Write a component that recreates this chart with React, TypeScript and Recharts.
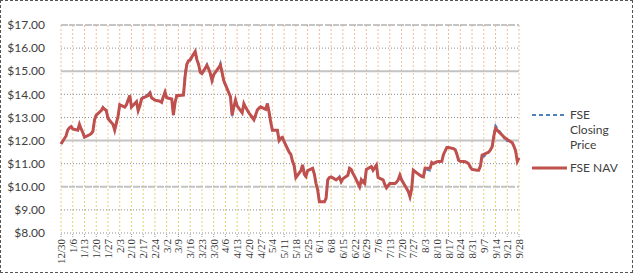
import React from 'react';
import {
  LineChart, Line, XAxis, YAxis, CartesianGrid, ReferenceLine, Legend,
} from 'recharts';

// trading days, counted in calendar days from 12/30
const days = [
  0, 3, 4, 5, 6, 7, 10, 11, 12, 13, 14, 17, 18, 19, 20, 21, 24, 25, 26, 27, 28,
  31, 32, 33, 34, 35, 38, 39, 40, 41, 42, 45, 46, 47, 48, 49, 52, 53, 54, 55, 56,
  59, 60, 61, 62, 63, 66, 67, 68, 69, 70, 73, 74, 75, 76, 77, 80, 81, 82, 83, 84,
  87, 88, 89, 90, 91, 94, 95, 96, 97, 101, 102, 103, 104, 105, 108, 109, 110, 111, 112,
  115, 116, 117, 118, 119, 122, 123, 124, 125, 126, 129, 130, 131, 132, 133,
  136, 137, 138, 139, 140, 143, 144, 145, 146, 147, 150, 151, 152, 153, 154,
  157, 158, 159, 160, 161, 164, 165, 166, 167, 168, 171, 172, 173, 174, 175,
  178, 179, 180, 181, 182, 185, 186, 188, 189, 192, 193, 194, 195, 196,
  199, 200, 201, 202, 203, 206, 207, 208, 209, 210, 213, 214, 215, 216, 217,
  220, 221, 222, 223, 224, 227, 228, 229, 230, 231, 234, 235, 236, 237, 238,
  241, 242, 243, 244, 245, 248, 249, 250, 251, 252, 255, 256, 257, 258, 259,
  262, 263, 264, 265, 266, 269, 270, 271, 272, 273,
];

const nav = [
  11.85, 12.2, 12.45, 12.55, 12.6, 12.5, 12.45, 12.7, 12.5, 12.35, 12.15, 12.25, 12.3, 12.4, 12.9, 13.1, 13.3, 13.42, 13.35, 13.3, 12.95,
  12.7, 12.45, 12.75, 13.05, 13.55, 13.45, 13.55, 13.75, 13.95, 13.45, 13.68, 13.3, 13.5, 13.8, 13.85, 13.95, 14.05, 13.85, 13.8, 13.75,
  13.7, 13.65, 13.9, 14.1, 13.85, 13.8, 13.1, 13.65, 13.95, 13.95, 13.97, 14.8, 15.3, 15.45, 15.5, 15.85, 15.5, 15.3, 14.95, 14.9,
  15.25, 15.1, 14.9, 14.6, 14.85, 15.15, 15.27, 14.95, 14.6, 13.9, 13.1, 13.45, 13.75, 13.5, 13.2, 13.6, 13.45, 13.32, 13.2,
  12.9, 13.1, 13.32, 13.4, 13.46, 13.35, 13.6, 13.25, 12.8, 12.45, 12.45, 12.0, 12.1, 12.14, 11.95,
  11.5, 11.4, 11.1, 10.9, 10.4, 10.7, 10.95, 10.55, 10.45, 10.7, 10.8, 10.55, 10.15, 9.86, 9.35,
  9.35, 9.5, 10.3, 10.4, 10.43, 10.3, 10.36, 10.4, 10.22, 10.35, 10.5, 10.8, 10.75, 10.58, 10.45,
  10.0, 10.3, 10.2, 10.14, 10.75, 10.87, 10.72, 10.94, 10.4, 10.3, 10.1, 9.95, 10.05, 10.14,
  10.14, 10.2, 10.3, 10.5, 10.3, 9.93, 9.8, 9.57, 9.9, 10.72, 10.55, 10.5, 10.45, 10.43, 10.8,
  10.8, 11.05, 11.0, 11.05, 11.08, 11.1, 11.4, 11.55, 11.7, 11.7, 11.65, 11.6, 11.4, 11.15, 11.1,
  11.08, 11.05, 11.0, 10.85, 10.75, 10.72, 10.72, 10.9, 11.37, 11.4, 11.5, 11.6, 11.73, 12.2, 12.53,
  12.3, 12.24, 12.15, 12.1, 12.05, 11.9, 11.75, 11.55, 11.1, 11.25,
];

const price = [
  11.85, 12.2, 12.45, 12.55, 12.6, 12.5, 12.45, 12.7, 12.5, 12.35, 12.15, 12.25, 12.3, 12.4, 12.9, 13.1, 13.3, 13.45, 13.35, 13.3, 12.95,
  12.7, 12.45, 12.75, 13.05, 13.55, 13.45, 13.55, 13.75, 13.95, 13.45, 13.68, 13.3, 13.5, 13.8, 13.9, 14.0, 14.17, 13.85, 13.8, 13.75,
  13.7, 13.65, 13.9, 14.1, 13.85, 13.8, 13.1, 13.65, 13.95, 13.95, 13.97, 15.0, 15.3, 15.4, 15.45, 15.85, 15.5, 15.3, 14.95, 14.9,
  15.3, 15.1, 14.9, 14.5, 14.85, 15.15, 15.35, 14.95, 14.55, 13.9, 13.05, 13.45, 13.75, 13.5, 13.2, 13.6, 13.45, 13.32, 13.2,
  12.9, 13.1, 13.32, 13.4, 13.46, 13.35, 13.6, 13.25, 12.8, 12.45, 12.45, 11.95, 12.1, 12.14, 11.95,
  11.5, 11.4, 11.1, 10.9, 10.4, 10.7, 10.95, 10.55, 10.4, 10.7, 10.8, 10.55, 10.15, 9.86, 9.35,
  9.35, 9.5, 10.3, 10.4, 10.43, 10.3, 10.36, 10.45, 10.22, 10.35, 10.5, 10.8, 10.75, 10.58, 10.45,
  10.0, 10.3, 10.35, 10.14, 10.75, 10.87, 10.72, 10.94, 10.4, 10.3, 10.1, 9.95, 10.05, 10.14,
  10.14, 10.2, 10.3, 10.5, 10.3, 9.93, 9.8, 9.57, 9.9, 10.72, 10.55, 10.5, 10.45, 10.43, 10.75,
  10.7, 11.1, 11.0, 11.05, 11.08, 11.1, 11.4, 11.55, 11.7, 11.7, 11.65, 11.6, 11.4, 11.15, 11.1,
  11.08, 11.05, 11.0, 10.85, 10.75, 10.72, 10.72, 10.9, 11.3, 11.3, 11.5, 11.6, 11.73, 12.25, 12.65,
  12.35, 12.24, 12.15, 11.95, 12.0, 11.9, 11.75, 11.55, 11.1, 11.25,
];

const tickLabels = [
  '12/30', '1/6', '1/13', '1/20', '1/27', '2/3', '2/10', '2/17', '2/24', '3/2',
  '3/9', '3/16', '3/23', '3/30', '4/6', '4/13', '4/20', '4/27', '5/4', '5/11',
  '5/18', '5/25', '6/1', '6/8', '6/15', '6/22', '6/29', '7/6', '7/13', '7/20',
  '7/27', '8/3', '8/10', '8/17', '8/24', '8/31', '9/7', '9/14', '9/21', '9/28',
];
const tickDays = tickLabels.map((_, i) => i * 7);

const yTicks = [8, 9, 10, 11, 12, 13, 14, 15, 16, 17];
const solidLines = [15, 12];
const dashedLines = [17, 10];

const data = days.map((d, i) => ({ day: d, nav: nav[i], price: price[i] }));

const XTick = ({ x, y, index }: any) => (
  <text
    x={x}
    y={y}
    dy={4}
    transform={`rotate(-90 ${x} ${y})`}
    textAnchor="end"
    fontFamily="'Liberation Serif', serif"
    fontSize={11}
    fill="#333"
  >
    {tickLabels[index]}
  </text>
);

const LegendBox = () => (
  <svg width={100} height={75} style={{ display: 'block' }}>
    <line x1={2} y1={10} x2={37} y2={10} stroke="#4f81bd" strokeWidth={2} strokeDasharray="4 3" />
    <text x={40} y={14} fontFamily="Lato, sans-serif" fontSize={12} fill="#404040">
      <tspan x={40} dy={0}>FSE</tspan>
      <tspan x={40} dy={15}>Closing</tspan>
      <tspan x={40} dy={15}>Price</tspan>
    </text>
    <line x1={2} y1={63} x2={37} y2={63} stroke="#c0504d" strokeWidth={3} />
    <text x={40} y={67} fontFamily="Lato, sans-serif" fontSize={12} fill="#404040">FSE NAV</text>
  </svg>
);

export default function App() {
  return (
    <div
      style={{
        position: 'absolute', left: 0, top: 0, width: 633, height: 273,
        boxSizing: 'border-box', border: '1px dashed #555', background: '#fff',
      }}
    >
      <div style={{ position: 'absolute', left: -1, top: -1 }}>
        <LineChart width={633} height={273} data={data} margin={{ top: 25, right: 114, bottom: 0, left: 0 }}>
          <defs>
            <linearGradient id="vgrid" gradientUnits="userSpaceOnUse" x1="0" y1="25" x2="0" y2="233">
              <stop offset="0%" stopColor="#f5b89a" />
              <stop offset="55%" stopColor="#f1cf9a" />
              <stop offset="100%" stopColor="#ddd56a" />
            </linearGradient>
          </defs>
          <CartesianGrid horizontal={false} stroke="url(#vgrid)" strokeDasharray="2 2" />
          <CartesianGrid vertical={false} stroke="#8c8c8c" strokeDasharray="1 2" />
          {solidLines.map((v) => (
            <ReferenceLine key={`s${v}`} y={v} stroke="#c4c4c4" strokeWidth={2} />
          ))}
          {dashedLines.map((v) => (
            <ReferenceLine key={`d${v}`} y={v} stroke="#c4c4c4" strokeWidth={2} strokeDasharray="6 2" />
          ))}
          <XAxis
            dataKey="day"
            type="number"
            domain={[0, 273]}
            ticks={tickDays}
            interval={0}
            height={40}
            axisLine={false}
            tickSize={4}
            tickMargin={2}
            tickLine={{ stroke: '#999', strokeDasharray: '1 1' }}
            tick={<XTick />}
          />
          <YAxis
            domain={[8, 17]}
            ticks={yTicks}
            width={61}
            axisLine={false}
            tickLine={false}
            tickSize={6}
            tickMargin={10}
            tickFormatter={(v: number) => `$${v.toFixed(2)}`}
            tick={{ fontFamily: 'Lato, sans-serif', fontSize: 12, fill: '#404040' }}
          />
          <Line
            type="linear"
            dataKey="price"
            name="FSE Closing Price"
            stroke="#4f81bd"
            strokeWidth={2}
            strokeDasharray="4 3"
            dot={false}
            isAnimationActive={false}
          />
          <Line
            type="linear"
            dataKey="nav"
            name="FSE NAV"
            stroke="#c0504d"
            strokeWidth={3}
            dot={false}
            isAnimationActive={false}
          />
          <Legend
            layout="horizontal"
            verticalAlign="middle"
            align="center"
            content={<LegendBox />}
            wrapperStyle={{ left: 530, top: 105, width: 100, height: 75 }}
          />
        </LineChart>
      </div>
    </div>
  );
}
